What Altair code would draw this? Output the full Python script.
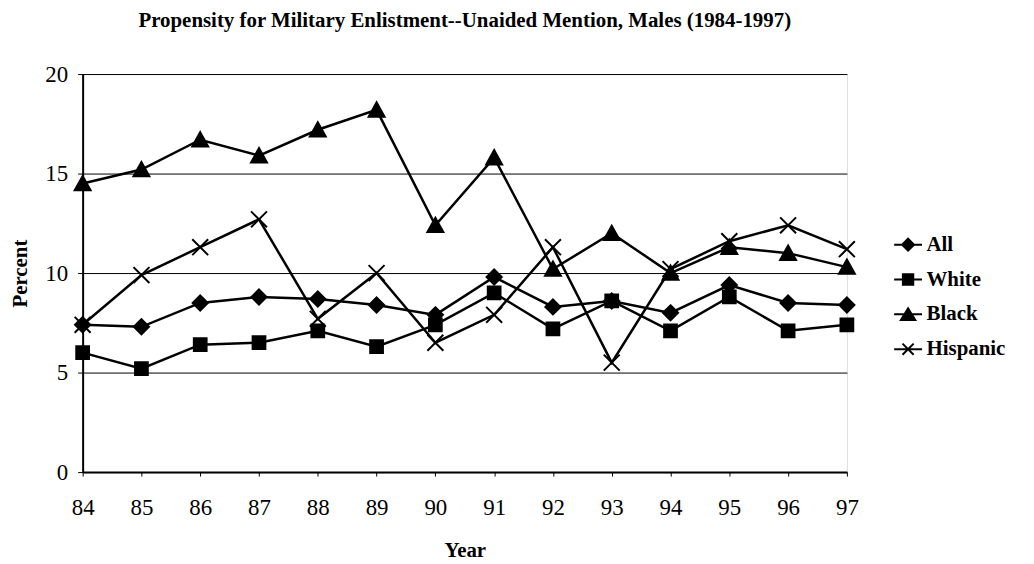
import altair as alt
import pandas as pd

years = list(range(84, 98))
series_names = ["All", "White", "Black", "Hispanic"]
all_vals = [7.4, 7.3, 8.5, 8.8, 8.7, 8.4, 7.9, 9.8, 8.3, 8.6, 8.0, 9.4, 8.5, 8.4]
white_vals = [6.0, 5.2, 6.4, 6.5, 7.1, 6.3, 7.4, 9.0, 7.2, 8.6, 7.1, 8.8, 7.1, 7.4]
black_vals = [14.5, 15.2, 16.7, 15.9, 17.2, 18.2, 12.4, 15.8, 10.2, 12.0, 10.0, 11.3, 11.0, 10.3]
hispanic_vals = [7.4, 9.9, 11.3, 12.7, 7.7, 10.0, 6.5, 7.9, 11.3, 5.5, 10.2, 11.6, 12.4, 11.2]
y_ticks = [0, 5, 10, 15, 20]

rows = []
for name, vals in zip(series_names, [all_vals, white_vals, black_vals, hispanic_vals]):
    for yr, v in zip(years, vals):
        rows.append({"year": yr, "value": v, "series": name})
df = pd.DataFrame(rows)

SERIF = "Liberation Serif"

marker_paths = [
    "M0,-0.95L0.95,0L0,0.95L-0.95,0Z",
    "M-0.8,-0.8H0.8V0.8H-0.8Z",
    "M0,-0.95L1,0.85L-1,0.85Z",
    "M-1,-1L1,1M-1,1L1,-1",
]
legend_paths = [
    "M-1.75,0H1.75M0,-0.75L0.75,0L0,0.75L-0.75,0Z",
    "M-1.75,0H1.75M-0.65,-0.65H0.65V0.65H-0.65Z",
    "M-1.75,0H1.75M0,-0.75L0.9,0.7L-0.9,0.7Z",
    "M-1.75,0H1.75M-0.7,-0.7L0.7,0.7M-0.7,0.7L0.7,-0.7",
]
blacks = ["black"] * len(series_names)

x_enc = alt.X(
    "year:Q",
    scale=alt.Scale(domain=[84, 97], nice=False, zero=False),
    axis=alt.Axis(
        values=years, format="d", title="Year", grid=False,
        tickSize=4, tickColor="black", tickWidth=1, labelFlush=False,
        domainColor="black", domainWidth=2,
        labelFont=SERIF, labelFontSize=23, labelColor="black", labelPadding=21,
        titleFont=SERIF, titleFontSize=21, titleFontWeight="bold", titleColor="black",
        titleY=85, titleBaseline="alphabetic",
    ),
)
y_enc = alt.Y(
    "value:Q",
    scale=alt.Scale(domain=[0, 20], nice=False),
    axis=alt.Axis(
        values=y_ticks, title="Percent", grid=True, gridColor="black", gridWidth=1, gridOpacity=1,
        tickSize=5, tickColor="black", tickWidth=1, labelFlush=False,
        domainColor="black", domainWidth=2,
        labelFont=SERIF, labelFontSize=23, labelColor="black", labelPadding=10,
        titleFont=SERIF, titleFontSize=21, titleFontWeight="bold", titleColor="black",
        titlePadding=14,
    ),
)

base = alt.Chart(df)

lines = base.mark_line(color="black", strokeWidth=2.5).encode(
    x=x_enc, y=y_enc, detail="series:N"
)

point_layers = []
for name, path in zip(series_names, marker_paths):
    point_layers.append(
        base.transform_filter(alt.datum.series == name).mark_point(
            filled=True, fill="black", stroke="black", strokeWidth=2, opacity=1, size=256,
            shape=path,
        ).encode(x=x_enc, y=y_enc)
    )

leg = alt.Legend(
    title=None, orient="none", legendX=819, legendY=161,
    padding=0, rowPadding=13, labelOffset=8,
    labelFont=SERIF, labelFontSize=21, labelFontWeight="bold", labelColor="black",
    symbolSize=256, symbolStrokeWidth=2, symbolOpacity=1,
)

legend_layer = base.transform_filter("false").mark_point(
    filled=True, strokeWidth=2, opacity=1, size=256
).encode(
    x=x_enc, y=y_enc,
    shape=alt.Shape("series:N", scale=alt.Scale(domain=series_names, range=legend_paths), legend=leg),
    stroke=alt.Stroke("series:N", scale=alt.Scale(domain=series_names, range=blacks), legend=leg),
    fill=alt.Fill("series:N", scale=alt.Scale(domain=series_names, range=blacks), legend=leg),
)

chart = (
    alt.layer(lines, *point_layers, legend_layer)
    .properties(
        width=768, height=400,
        autosize=alt.AutoSizeParams(type="none"),
        padding={"left": 75, "top": 65, "right": 180, "bottom": 91},
        title=alt.TitleParams(
            "Propensity for Military Enlistment--Unaided Mention, Males (1984-1997)",
            font=SERIF, fontSize=21, fontWeight="bold", color="black",
            anchor="middle", frame="group", offset=32,
        ),
    )
    .configure_view(stroke="black", strokeWidth=1)
    .configure(background="white")
)

chart.save("out.html", embed_options={"renderer": "svg", "actions": False})
